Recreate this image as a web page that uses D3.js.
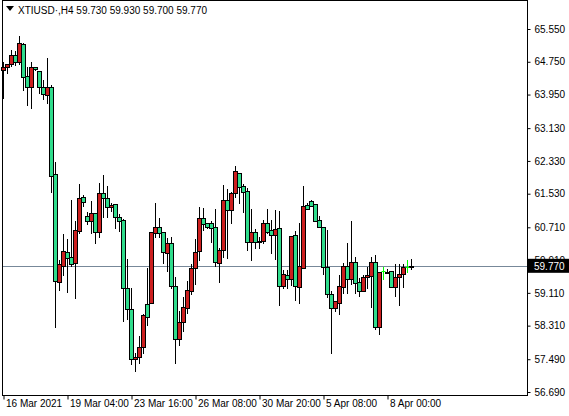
<!DOCTYPE html>
<html>
<head>
<meta charset="utf-8">
<script src="https://cdn.jsdelivr.net/npm/d3@7"></script>
<style>
  body { margin: 0; background: #fff; }
  svg text { font-family: "Liberation Sans", Arial, sans-serif; font-size: 10px; }
</style>
</head>
<body>
<div id="chart"></div>
<script>
// H4 candles, oldest first
const opens  = [64.55,64.62,64.70,64.92,64.74,65.18,64.40,64.13,64.62,64.52,64.13,63.94,64.13,62.01,59.37,59.77,60.11,59.99,59.84,60.62,61.45,60.99,60.86,61.06,60.60,61.55,61.43,61.21,61.28,60.96,60.89,59.23,58.72,57.50,57.54,57.79,58.84,58.86,60.57,60.72,60.60,60.08,60.33,59.28,57.98,58.40,58.74,59.16,59.72,60.13,60.94,60.82,60.82,60.72,59.84,60.16,61.38,61.13,61.55,62.04,61.72,61.60,60.35,60.60,60.38,60.38,60.82,60.64,60.52,60.69,59.28,59.55,59.45,60.52,59.25,59.72,61.25,61.35,61.28,60.89,60.72,59.74,59.08,58.74,58.86,59.25,59.77,59.45,59.86,59.37,59.16,59.50,59.52,59.86,58.28,59.64,59.62,59.64,59.25,59.50,59.57,59.74,59.73];
const highs  = [64.74,64.70,65.04,65.01,65.38,65.21,64.62,64.74,64.62,64.52,64.31,64.84,64.18,62.30,59.91,60.55,60.42,61.38,60.86,61.77,61.50,61.08,61.35,61.06,61.79,61.99,61.72,61.30,61.28,61.03,60.91,59.94,59.23,57.64,58.06,58.59,59.72,60.60,61.30,60.94,60.60,60.45,60.47,59.50,58.67,59.01,59.40,59.81,60.42,61.21,61.18,60.82,60.86,61.16,60.20,61.74,61.64,61.57,62.21,62.04,61.77,61.67,61.16,60.67,60.47,60.89,61.16,60.89,61.13,61.11,59.67,59.67,60.50,60.62,60.82,61.72,61.30,61.38,61.28,60.99,60.72,60.64,59.16,58.91,59.55,59.84,60.33,60.86,59.99,59.47,59.55,59.74,59.99,60.03,59.62,59.74,59.69,59.64,59.81,59.81,59.81,59.91,59.93];
const lows   = [63.87,64.48,64.65,64.67,64.70,64.06,63.70,63.62,64.55,63.99,63.84,63.74,61.57,58.28,59.18,59.55,59.13,59.77,58.98,60.57,61.23,60.79,60.57,60.33,60.47,60.96,60.96,61.11,60.69,60.62,58.42,58.47,57.37,57.20,57.40,57.64,58.33,58.86,60.47,60.47,59.84,59.64,59.23,57.40,57.84,58.18,58.62,59.08,59.33,59.91,60.64,60.69,60.35,59.77,59.37,59.99,59.96,60.82,61.45,61.30,61.08,60.16,59.91,60.20,60.20,60.33,60.57,60.08,59.94,58.81,59.23,59.23,59.30,58.94,58.86,59.72,61.16,61.23,60.86,60.72,59.57,59.01,57.64,58.67,58.59,59.11,59.11,59.33,59.11,59.03,59.16,59.23,58.76,58.23,58.11,59.45,59.62,59.25,59.03,58.81,59.25,59.62,59.70];
const closes = [64.62,64.70,64.92,64.74,65.21,64.38,64.13,64.62,64.57,64.13,63.96,64.13,61.96,59.40,59.81,60.13,59.96,59.81,60.64,61.43,61.33,60.86,61.06,60.60,61.55,61.43,61.21,61.25,60.96,60.86,59.23,58.72,57.50,57.54,57.79,58.57,58.52,60.60,60.72,60.57,60.11,60.33,59.28,57.98,58.40,58.76,59.18,59.72,60.11,60.94,60.79,60.72,60.69,59.86,60.16,61.38,61.13,61.55,62.08,61.69,61.57,60.35,60.60,60.35,60.37,60.82,60.60,60.52,60.67,59.28,59.57,59.45,60.50,59.28,59.77,61.23,61.16,61.23,60.86,60.72,59.74,59.08,58.74,58.91,59.28,59.77,59.45,59.86,59.35,59.16,59.50,59.55,59.86,58.28,59.62,59.64,59.63,59.25,59.50,59.57,59.74,59.74,59.77];

const yTicks = [65.55, 64.75, 63.95, 63.13, 62.33, 61.53, 60.71, 59.91, 59.11, 58.31, 57.49, 56.69];
const xTickIdx = [16, 32, 48, 64, 80, 96];
const xTickLabels = ["19 Mar 04:00", "23 Mar 16:00", "26 Mar 08:00", "30 Mar 20:00", "5 Apr 08:00", "8 Apr 00:00"];
const firstLabel = "16 Mar 2021";
const title = "XTIUSD\u00b7,H4  59.730 59.930 59.700 59.770";
const lastPrice = 59.77;

const W = 569, H = 416;
const plotRight = 527, plotBottom = 395;

const svg = d3.select("#chart").append("svg")
    .attr("width", W).attr("height", H);

const x = d3.scaleLinear().domain([0, opens.length - 1]).range([3, 3 + 4 * (opens.length - 1)]);
const y = d3.scaleLinear().domain([56.69, 65.55]).range([392, 29]);

// frame
svg.append("rect").attr("x", 2.5).attr("y", 0.5)
    .attr("width", plotRight - 2).attr("height", plotBottom)
    .attr("fill", "none").attr("stroke", "#000");

// right axis
const yAxis = d3.axisRight(y).tickValues(yTicks).tickFormat(d3.format(".3f"))
    .tickSize(3).tickSizeOuter(0);
const yg = svg.append("g").attr("transform", `translate(${plotRight + 0.5},0)`).call(yAxis);
yg.select(".domain").remove();
yg.selectAll("text").attr("x", 7).attr("fill", "#000");

// bottom axis
const xAxis = d3.axisBottom(x).tickValues([0].concat(xTickIdx))
    .tickFormat((d, i) => i === 0 ? firstLabel : xTickLabels[i - 1])
    .tickSize(4).tickSizeOuter(0);
const xg = svg.append("g").attr("transform", `translate(0.5,${plotBottom + 0.5})`).call(xAxis);
xg.select(".domain").remove();
xg.selectAll("text").attr("text-anchor", "start").attr("x", 2).attr("y", 4).attr("fill", "#000");

// last price line
svg.append("line").attr("x1", 3).attr("x2", plotRight)
    .attr("y1", Math.round(y(lastPrice)) + 0.5).attr("y2", Math.round(y(lastPrice)) + 0.5)
    .attr("stroke", "#778899");

const idx = d3.range(opens.length);
const g = svg.append("g");

// wicks
g.selectAll(".wick").data(idx).enter().append("line")
    .attr("x1", i => Math.round(x(i)) + 0.5).attr("x2", i => Math.round(x(i)) + 0.5)
    .attr("y1", i => Math.round(y(highs[i]))).attr("y2", i => Math.round(y(lows[i])) + 1)
    .attr("stroke", i => opens[i] === closes[i] ? "#00ff00" : "#000");

// bodies
g.selectAll(".body").data(idx.filter(i => opens[i] !== closes[i])).enter().append("rect")
    .attr("x", i => Math.round(x(i)) - 1.5)
    .attr("y", i => Math.round(y(Math.max(opens[i], closes[i]))) + 0.5)
    .attr("width", 4)
    .attr("height", i => Math.max(1, Math.round(y(Math.min(opens[i], closes[i]))) - Math.round(y(Math.max(opens[i], closes[i])))))
    .attr("fill", i => closes[i] > opens[i] ? "#cc1f1f" : "#2fdc8c")
    .attr("stroke", "#000");

// doji ticks
g.selectAll(".doji").data(idx.filter(i => opens[i] === closes[i])).enter().append("line")
    .attr("x1", i => Math.round(x(i)) - 1.5).attr("x2", i => Math.round(x(i)) + 2.5)
    .attr("y1", i => Math.round(y(opens[i])) + 0.5).attr("y2", i => Math.round(y(opens[i])) + 0.5)
    .attr("stroke", "#00ff00");

// last price label
const ly = y(lastPrice);
svg.append("rect").attr("x", plotRight + 1).attr("y", ly - 7).attr("width", 41).attr("height", 14).attr("fill", "#000");
svg.append("text").attr("x", plotRight + 7).attr("y", ly + 4).attr("fill", "#fff").text(d3.format(".3f")(lastPrice));

// title
svg.append("path").attr("d", "M6,6 L14,6 L10,11 Z").attr("fill", "#000");
svg.append("text").attr("x", 18).attr("y", 14).attr("fill", "#000").text(title);
</script>
</body>
</html>
